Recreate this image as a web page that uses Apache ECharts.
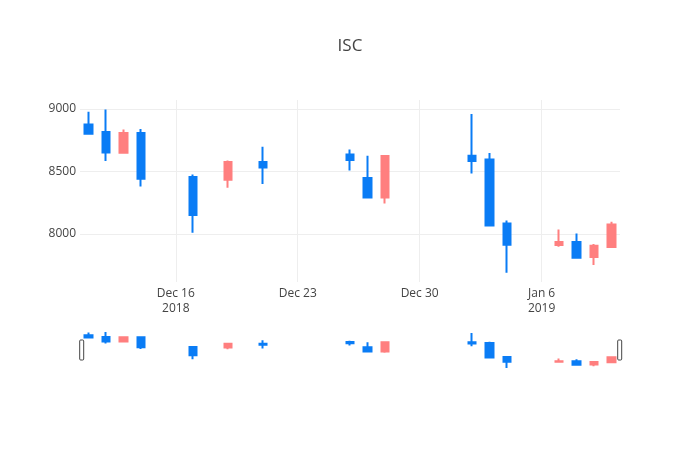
<!DOCTYPE html>
<html>
<head>
<meta charset="utf-8">
<script src="https://cdn.jsdelivr.net/npm/echarts@6/dist/echarts.min.js"></script>
<style>html,body{margin:0;padding:0;background:#fff}#c{width:700px;height:450px}</style>
</head>
<body>
<div id="c"></div>
<script>
// Data (dates as YYYY-MM-DD)
var dates = ['2018-12-11','2018-12-12','2018-12-13','2018-12-14','2018-12-17','2018-12-19','2018-12-21',
             '2018-12-26','2018-12-27','2018-12-28','2019-01-02','2019-01-03','2019-01-04',
             '2019-01-07','2019-01-08','2019-01-09','2019-01-10'];
var open  = [8877, 8816, 8651, 8808, 8456, 8435, 8576, 8637, 8448, 8293, 8627, 8597, 8085, 7912, 7936, 7816, 7896];
var close = [8803, 8653, 8808, 8443, 8152, 8576, 8533, 8592, 8293, 8625, 8584, 8069, 7915, 7936, 7811, 7907, 8077];
var low   = [8795, 8584, 8645, 8381, 8011, 8371, 8400, 8509, 8290, 8245, 8485, 8061, 7691, 7899, 7805, 7752, 7893];
var high  = [8979, 8997, 8837, 8840, 8477, 8589, 8699, 8677, 8627, 8629, 8960, 8648, 8109, 8037, 8005, 7920, 8099];

var xTickDates  = ['2018-12-16','2018-12-23','2018-12-30','2019-01-06'];
var xTickLabels = ['Dec 16\n2018','Dec 23','Dec 30','Jan 6\n2019'];
var yTicks = [8000, 8500, 9000];

var DAY = 86400000;
function ts(d){ var p = d.split('-'); return Date.UTC(+p[0], +p[1]-1, +p[2]); }
var xMin = ts(dates[0]) - 0.5*DAY;
var xMax = ts(dates[dates.length-1]) + 0.5*DAY;
var yMin = 7616, yMax = 9072;

var candleData = dates.map(function(d,i){ return [ts(d), open[i], close[i], low[i], high[i]]; });
var xTickVals = xTickDates.map(ts);

var UP = '#ff7f7f', DOWN = '#0a7cf5';
var font = '"Open Sans", verdana, arial, sans-serif';

var chart = echarts.init(document.getElementById('c'), null, {renderer:'canvas'});
var candleStyle = {color: UP, color0: DOWN, borderColor: UP, borderColor0: DOWN, borderWidth: 2};

chart.setOption({
  animation: false,
  backgroundColor: '#fff',
  title: {text: 'ISC', left: 'center', top: 33, textStyle: {fontFamily: font, fontSize: 17, fontWeight: 'normal', color: '#444'}},
  grid: [
    {left: 80, right: 80, top: 100, height: 182},
    {left: 80, right: 80, top: 330, height: 40}
  ],
  xAxis: [
    {type: 'value', gridIndex: 0, min: xMin, max: xMax, scale: true,
     axisLine: {show: false}, axisTick: {show: false, customValues: xTickVals},
     splitLine: {show: true, lineStyle: {color: '#eee', width: 1}},
     axisLabel: {customValues: xTickVals, margin: 4, lineHeight: 15, fontFamily: font, fontSize: 12, color: '#444',
       formatter: function(v){ var i = xTickVals.indexOf(v); return i >= 0 ? xTickLabels[i] : ''; }}},
    {type: 'value', gridIndex: 1, min: xMin, max: xMax, scale: true, show: false}
  ],
  yAxis: [
    {type: 'value', gridIndex: 0, min: yMin, max: yMax, scale: true,
     axisLine: {show: false}, axisTick: {show: false, customValues: yTicks},
     splitLine: {show: true, lineStyle: {color: '#eee', width: 1}},
     axisLabel: {customValues: yTicks, margin: 4, fontFamily: font, fontSize: 12, color: '#444',
       formatter: function(v){ return String(v); }}},
    {type: 'value', gridIndex: 1, min: yMin, max: yMax, scale: true, show: false}
  ],
  dataZoom: [{
    type: 'slider', xAxisIndex: [0], start: 0, end: 100, filterMode: 'none',
    left: 80, right: 80, top: 330, height: 40,
    backgroundColor: 'rgba(0,0,0,0)', fillerColor: 'rgba(0,0,0,0)', borderColor: 'rgba(0,0,0,0)',
    showDataShadow: false, showDetail: false, brushSelect: false, moveHandleSize: 0,
    handleIcon: 'path://M1,0 h2 a1,1 0 0 1 1,1 v18 a1,1 0 0 1 -1,1 h-2 a1,1 0 0 1 -1,-1 v-18 a1,1 0 0 1 1,-1 z',
    handleSize: 20,
    handleStyle: {color: '#fff', borderColor: '#444', borderWidth: 1},
    emphasis: {handleStyle: {color: '#fff', borderColor: '#444'}},
    dataBackground: {lineStyle: {opacity: 0}, areaStyle: {opacity: 0}}
  }],
  series: [
    {type: 'candlestick', xAxisIndex: 0, yAxisIndex: 0, data: candleData, barWidth: 8, itemStyle: candleStyle},
    {type: 'candlestick', xAxisIndex: 1, yAxisIndex: 1, data: candleData, barWidth: 8, itemStyle: candleStyle, silent: true}
  ]
});
</script>
</body>
</html>
